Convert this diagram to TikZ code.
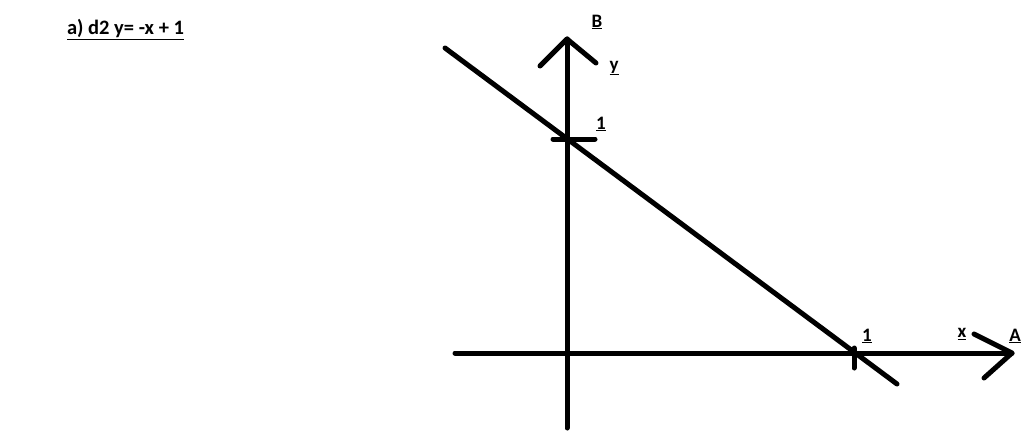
\documentclass[tikz,border=0pt]{standalone}
\usepackage{fontspec}
\setmainfont{Carlito}
\tikzset{
  axisline/.style={line width=5pt, line cap=round, line join=round},
  lbl/.style={font=\bfseries\fontsize{19}{22}\selectfont, inner sep=0pt}
}
\begin{document}
\begin{tikzpicture}[x=1pt,y=-1pt]
\useasboundingbox (0,0) rectangle (1024,436);
% Title
\node[lbl, font=\bfseries\fontsize{20.5}{24}\selectfont] (title) at (125.5,30) {\underline{a) d2 y= -x + 1}};
% Axes end points
\coordinate (o) at (567,353);
\coordinate (ybot) at (567,428);
\coordinate (ytop) at (567,39);
\coordinate (yl) at (540,66);
\coordinate (yr) at (596,63);
\coordinate (xleft) at (455,353);
\coordinate (xright) at (1012,353);
\coordinate (xu) at (974,334);
\coordinate (xd) at (984,378);
% Draw axes and arrow arms
\draw[axisline] (ybot) -- (ytop);
\draw[axisline] (yl) -- (ytop) -- (yr);
\draw[axisline] (xleft) -- (xright);
\draw[axisline] (xu) -- (xright) -- (xd);
% Ticks at 1
\coordinate (ty1) at (553,139);
\coordinate (ty2) at (595,139);
\coordinate (tx1) at (854,348);
\coordinate (tx2) at (854,368);
\draw[axisline] (ty1) -- (ty2);
\draw[axisline] (tx1) -- (tx2);
% Line d2
\coordinate (dstart) at (445,48);
\coordinate (dend) at (897,384);
\draw[axisline] (dstart) -- (dend);
% Labels
\node[lbl] (B) at (597,22) {\underline{B}};
\node[lbl] (ylab) at (614,68) {\underline{y}};
\node[lbl] (one1) at (601,124) {\underline{1}};
\node[lbl] (one2) at (867,336) {\underline{1}};
\node[lbl] (xlab) at (962,334) {\underline{x}};
\node[lbl] (A) at (1015,336) {\underline{A}};
\end{tikzpicture}
\end{document}
